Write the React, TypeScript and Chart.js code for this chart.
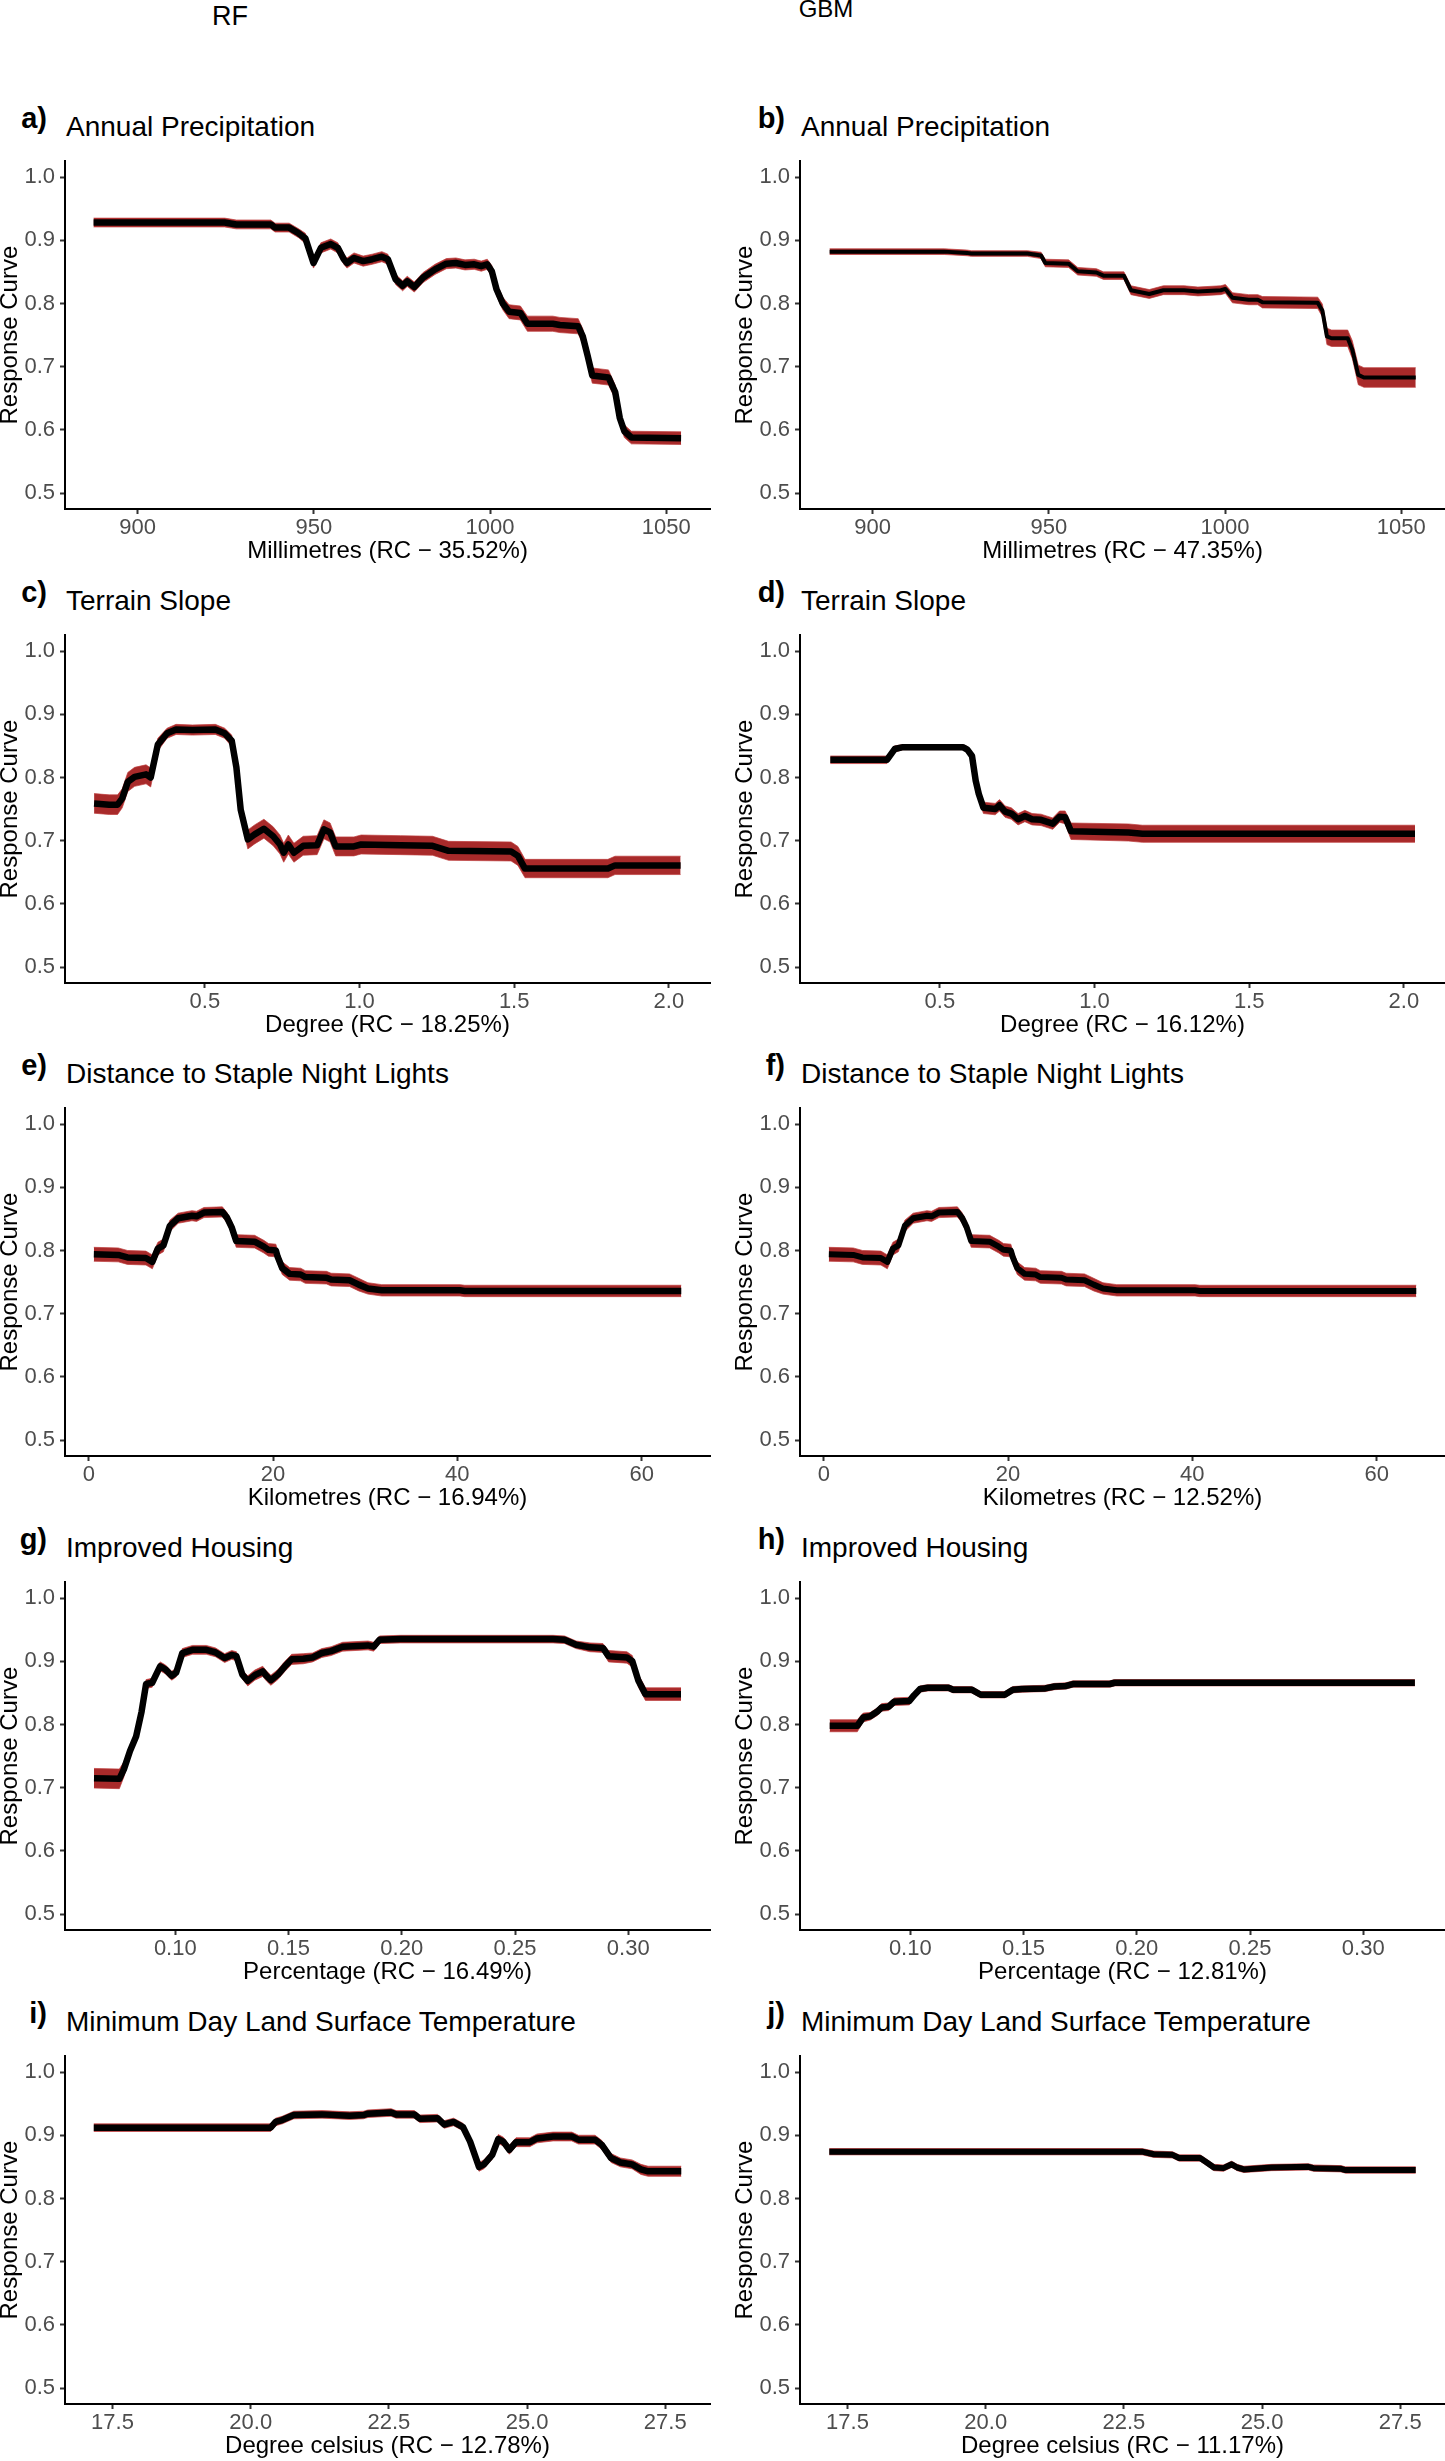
import React, { useEffect, useRef } from 'react';
import { Chart, registerables } from 'chart.js';

Chart.register(...registerables);

const FONT = '"Liberation Sans", Arial, Helvetica, sans-serif';
const TICK_FONT = '"Liberation Sans Narrow", "Arial Narrow", "Liberation Sans", Arial, sans-serif';
const RED = '#A82A2A';
const RED_EDGE = 'rgba(190,60,60,0.7)';
const TICK_GREY = '#4D4D4D';

// ---------- tick values / labels ----------
const yTickValues = [0.5, 0.6, 0.7, 0.8, 0.9, 1.0];
const yTickLabels = ['0.5', '0.6', '0.7', '0.8', '0.9', '1.0'];
const precipTickValues = [900, 950, 1000, 1050];
const precipTickLabels = ['900', '950', '1000', '1050'];
const slopeTickValues = [0.5, 1.0, 1.5, 2.0];
const slopeTickLabels = ['0.5', '1.0', '1.5', '2.0'];
const lightsTickValues = [0, 20, 40, 60];
const lightsTickLabels = ['0', '20', '40', '60'];
const housingTickValues = [0.1, 0.15, 0.2, 0.25, 0.3];
const housingTickLabels = ['0.10', '0.15', '0.20', '0.25', '0.30'];
const tempTickValues = [17.5, 20.0, 22.5, 25.0, 27.5];
const tempTickLabels = ['17.5', '20.0', '22.5', '25.0', '27.5'];

// ---------- a) RF Annual Precipitation ----------
const aX = [887.5, 924.7, 928.0, 937.8, 939.0, 943.0, 945.7, 947.6, 949.9, 952.0, 954.8, 956.8, 958.5, 959.4, 961.4, 964.0, 966.6, 969.3, 971.0, 973.2, 975.2, 976.5, 978.5, 981.0, 984.4, 987.6, 990.3, 992.9, 995.5, 997.5, 999.2, 1000.5, 1001.8, 1003.6, 1005.4, 1008.6, 1010.6, 1017.8, 1019.8, 1025.0, 1026.3, 1027.7, 1029.0, 1033.6, 1035.5, 1036.8, 1038.1, 1040.1, 1054.2];
const aY = [0.928, 0.928, 0.925, 0.925, 0.92, 0.92, 0.911, 0.903, 0.864, 0.888, 0.894, 0.888, 0.87, 0.864, 0.872, 0.867, 0.87, 0.874, 0.87, 0.838, 0.828, 0.835, 0.826, 0.841, 0.854, 0.863, 0.864, 0.861, 0.862, 0.859, 0.862, 0.851, 0.823, 0.8, 0.787, 0.785, 0.768, 0.768, 0.766, 0.764, 0.748, 0.717, 0.686, 0.683, 0.66, 0.619, 0.598, 0.588, 0.587];
const aW = [0.007, 0.007, 0.007, 0.007, 0.007, 0.007, 0.007, 0.008, 0.008, 0.008, 0.008, 0.008, 0.008, 0.008, 0.008, 0.008, 0.008, 0.008, 0.008, 0.008, 0.008, 0.008, 0.008, 0.008, 0.008, 0.008, 0.008, 0.008, 0.008, 0.008, 0.008, 0.009, 0.01, 0.01, 0.011, 0.011, 0.012, 0.012, 0.012, 0.012, 0.012, 0.012, 0.012, 0.012, 0.011, 0.01, 0.01, 0.01, 0.01];

// ---------- b) GBM Annual Precipitation ----------
const bX = [887.8, 920.3, 926.8, 928.0, 943.9, 947.8, 949.0, 955.6, 958.2, 963.5, 965.5, 971.3, 973.3, 978.5, 982.5, 988.4, 992.3, 998.8, 1000.1, 1002.1, 1006.7, 1009.3, 1010.6, 1026.3, 1027.6, 1028.9, 1030.2, 1034.8, 1036.1, 1037.8, 1039.4, 1054.1];
const bY = [0.882, 0.882, 0.88, 0.879, 0.879, 0.876, 0.864, 0.863, 0.851, 0.849, 0.844, 0.844, 0.821, 0.815, 0.821, 0.821, 0.819, 0.821, 0.823, 0.809, 0.806, 0.806, 0.802, 0.801, 0.789, 0.748, 0.745, 0.745, 0.727, 0.687, 0.683, 0.683];
const bW = [0.0045, 0.0045, 0.0045, 0.0045, 0.0045, 0.005, 0.006, 0.006, 0.006, 0.006, 0.006, 0.006, 0.007, 0.007, 0.007, 0.007, 0.007, 0.007, 0.007, 0.008, 0.008, 0.008, 0.009, 0.009, 0.01, 0.013, 0.013, 0.013, 0.014, 0.0155, 0.0155, 0.0155];

// ---------- c) RF Terrain Slope ----------
const cX = [0.142, 0.191, 0.218, 0.233, 0.251, 0.273, 0.31, 0.325, 0.348, 0.378, 0.407, 0.46, 0.534, 0.564, 0.587, 0.602, 0.616, 0.639, 0.661, 0.691, 0.721, 0.743, 0.755, 0.77, 0.788, 0.818, 0.863, 0.885, 0.905, 0.923, 0.982, 1.005, 1.132, 1.236, 1.288, 1.49, 1.512, 1.535, 1.803, 1.826, 2.038];
const cY = [0.759, 0.757, 0.757, 0.767, 0.793, 0.801, 0.805, 0.8, 0.852, 0.87, 0.876, 0.875, 0.876, 0.87, 0.858, 0.816, 0.749, 0.702, 0.71, 0.719, 0.707, 0.694, 0.681, 0.694, 0.681, 0.692, 0.693, 0.718, 0.713, 0.691, 0.691, 0.694, 0.693, 0.692, 0.684, 0.683, 0.676, 0.656, 0.656, 0.661, 0.661];
const cW = [0.0155, 0.0155, 0.0155, 0.015, 0.015, 0.015, 0.015, 0.015, 0.01, 0.008, 0.008, 0.008, 0.008, 0.008, 0.009, 0.011, 0.013, 0.015, 0.015, 0.015, 0.015, 0.015, 0.015, 0.015, 0.015, 0.015, 0.015, 0.015, 0.015, 0.015, 0.015, 0.015, 0.015, 0.015, 0.015, 0.015, 0.015, 0.0145, 0.0145, 0.0145, 0.0145];

// ---------- d) GBM Terrain Slope ----------
const dX = [0.146, 0.329, 0.354, 0.381, 0.574, 0.589, 0.604, 0.616, 0.626, 0.641, 0.679, 0.693, 0.711, 0.731, 0.753, 0.775, 0.798, 0.827, 0.865, 0.887, 0.905, 0.924, 1.11, 1.155, 2.036];
const dY = [0.828, 0.828, 0.845, 0.848, 0.848, 0.844, 0.834, 0.795, 0.774, 0.752, 0.75, 0.756, 0.746, 0.743, 0.734, 0.739, 0.734, 0.733, 0.727, 0.738, 0.737, 0.715, 0.713, 0.711, 0.711];
const dW = [0.006, 0.006, 0.005, 0.004, 0.004, 0.005, 0.006, 0.008, 0.009, 0.009, 0.009, 0.009, 0.009, 0.009, 0.009, 0.009, 0.009, 0.009, 0.009, 0.009, 0.01, 0.013, 0.0135, 0.0135, 0.0135];

// ---------- e) RF Distance to Staple Night Lights ----------
const eX = [0.55, 3.2, 4.2, 6.2, 6.9, 7.5, 8.1, 8.8, 9.7, 11.2, 11.7, 12.5, 14.5, 15.0, 15.5, 16.0, 18.0, 19.0, 19.5, 20.3, 20.5, 21.0, 21.8, 23.0, 23.5, 25.8, 26.3, 28.3, 29.3, 30.3, 31.8, 40.3, 40.8, 64.3];
const eY = [0.794, 0.793, 0.789, 0.788, 0.782, 0.803, 0.808, 0.839, 0.851, 0.855, 0.854, 0.86, 0.861, 0.852, 0.837, 0.815, 0.814, 0.806, 0.801, 0.8, 0.79, 0.772, 0.763, 0.762, 0.758, 0.757, 0.754, 0.753, 0.746, 0.74, 0.737, 0.737, 0.736, 0.736];
const eW = [0.011, 0.011, 0.011, 0.011, 0.011, 0.01, 0.01, 0.009, 0.008, 0.008, 0.008, 0.008, 0.008, 0.008, 0.009, 0.01, 0.01, 0.01, 0.01, 0.01, 0.01, 0.01, 0.01, 0.01, 0.01, 0.01, 0.01, 0.01, 0.01, 0.009, 0.009, 0.009, 0.009, 0.009];

// ---------- f) GBM Distance to Staple Night Lights ----------
const fX = [0.55, 3.2, 4.2, 6.2, 6.9, 7.5, 8.1, 8.8, 9.7, 11.2, 11.7, 12.5, 14.5, 15.0, 15.5, 16.0, 18.0, 19.0, 19.5, 20.3, 20.5, 21.0, 21.8, 23.0, 23.5, 25.8, 26.3, 28.3, 29.3, 30.3, 31.8, 40.3, 40.8, 64.3];
const fY = [0.794, 0.793, 0.789, 0.788, 0.782, 0.803, 0.808, 0.839, 0.851, 0.855, 0.854, 0.86, 0.861, 0.852, 0.837, 0.815, 0.814, 0.806, 0.801, 0.8, 0.79, 0.772, 0.763, 0.762, 0.758, 0.757, 0.754, 0.753, 0.746, 0.74, 0.737, 0.737, 0.736, 0.736];
const fW = [0.011, 0.011, 0.011, 0.011, 0.011, 0.01, 0.01, 0.009, 0.008, 0.008, 0.008, 0.008, 0.008, 0.008, 0.009, 0.01, 0.01, 0.01, 0.01, 0.01, 0.01, 0.01, 0.01, 0.01, 0.01, 0.01, 0.01, 0.01, 0.01, 0.009, 0.009, 0.009, 0.009, 0.009];

// ---------- g) RF Improved Housing ----------
const gX = [0.0641, 0.0753, 0.0773, 0.08, 0.0827, 0.0851, 0.0871, 0.0898, 0.0933, 0.0957, 0.0984, 0.1004, 0.1031, 0.1076, 0.1137, 0.1178, 0.1218, 0.1249, 0.127, 0.1296, 0.132, 0.1351, 0.1386, 0.1402, 0.1422, 0.1453, 0.1484, 0.1514, 0.1565, 0.1606, 0.1647, 0.1688, 0.1739, 0.1851, 0.1876, 0.1902, 0.1994, 0.2096, 0.2668, 0.2719, 0.277, 0.2831, 0.2888, 0.2913, 0.2994, 0.3018, 0.3045, 0.3076, 0.3233];
const gY = [0.715, 0.714, 0.729, 0.758, 0.781, 0.82, 0.864, 0.866, 0.892, 0.887, 0.877, 0.882, 0.913, 0.918, 0.918, 0.914, 0.905, 0.91, 0.908, 0.879, 0.869, 0.878, 0.884, 0.877, 0.87, 0.879, 0.892, 0.903, 0.904, 0.906, 0.913, 0.916, 0.923, 0.925, 0.923, 0.934, 0.935, 0.935, 0.935, 0.934, 0.926, 0.922, 0.921, 0.908, 0.906, 0.9, 0.869, 0.848, 0.848];
const gW = [0.0155, 0.0155, 0.012, 0.008, 0.007, 0.007, 0.007, 0.007, 0.007, 0.007, 0.007, 0.007, 0.007, 0.007, 0.007, 0.007, 0.007, 0.007, 0.007, 0.007, 0.008, 0.008, 0.008, 0.008, 0.008, 0.008, 0.008, 0.008, 0.008, 0.007, 0.007, 0.007, 0.007, 0.007, 0.007, 0.006, 0.006, 0.006, 0.006, 0.006, 0.006, 0.007, 0.007, 0.009, 0.009, 0.009, 0.01, 0.01, 0.01];

// ---------- h) GBM Improved Housing ----------
const hX = [0.0644, 0.0766, 0.0792, 0.0823, 0.0853, 0.0874, 0.0904, 0.0929, 0.0996, 0.1016, 0.1043, 0.1077, 0.1169, 0.1189, 0.1271, 0.1311, 0.1417, 0.1453, 0.1494, 0.1596, 0.1637, 0.1688, 0.1718, 0.1881, 0.1902, 0.3228];
const hY = [0.798, 0.798, 0.811, 0.813, 0.82, 0.827, 0.828, 0.836, 0.837, 0.846, 0.856, 0.858, 0.858, 0.855, 0.855, 0.847, 0.847, 0.855, 0.856, 0.857, 0.86, 0.861, 0.864, 0.864, 0.866, 0.866];
const hW = [0.0095, 0.0095, 0.007, 0.006, 0.006, 0.006, 0.006, 0.006, 0.006, 0.005, 0.005, 0.005, 0.005, 0.005, 0.005, 0.005, 0.005, 0.005, 0.005, 0.005, 0.005, 0.005, 0.005, 0.005, 0.005, 0.005];

// ---------- i) RF Minimum Day Land Surface Temperature ----------
const iX = [17.16, 20.36, 20.45, 20.57, 20.78, 21.29, 21.79, 22.04, 22.12, 22.54, 22.63, 22.96, 23.06, 23.38, 23.5, 23.67, 23.84, 23.97, 24.13, 24.22, 24.37, 24.48, 24.57, 24.68, 24.8, 25.05, 25.18, 25.47, 25.81, 25.93, 26.23, 26.35, 26.52, 26.69, 26.9, 27.06, 27.19, 27.79];
const iY = [0.912, 0.912, 0.921, 0.924, 0.932, 0.933, 0.931, 0.932, 0.934, 0.936, 0.933, 0.933, 0.926, 0.927, 0.917, 0.921, 0.913, 0.89, 0.85, 0.854, 0.869, 0.894, 0.89, 0.877, 0.889, 0.889, 0.895, 0.898, 0.898, 0.893, 0.893, 0.885, 0.864, 0.857, 0.854, 0.846, 0.843, 0.843];
const iW = [0.006, 0.006, 0.006, 0.006, 0.006, 0.006, 0.006, 0.006, 0.006, 0.006, 0.006, 0.006, 0.006, 0.006, 0.006, 0.006, 0.006, 0.007, 0.007, 0.007, 0.007, 0.007, 0.007, 0.007, 0.007, 0.007, 0.007, 0.007, 0.007, 0.007, 0.007, 0.007, 0.007, 0.007, 0.007, 0.008, 0.008, 0.008];

// ---------- j) GBM Minimum Day Land Surface Temperature ----------
const jX = [17.17, 22.83, 23.04, 23.38, 23.5, 23.88, 24.0, 24.13, 24.3, 24.45, 24.55, 24.67, 25.17, 25.84, 25.93, 26.43, 26.51, 27.78];
const jY = [0.874, 0.874, 0.87, 0.869, 0.864, 0.864, 0.857, 0.849, 0.848, 0.854, 0.849, 0.846, 0.849, 0.85, 0.848, 0.847, 0.845, 0.845];
const jW = [0.005, 0.005, 0.005, 0.005, 0.005, 0.005, 0.005, 0.005, 0.005, 0.005, 0.005, 0.005, 0.005, 0.005, 0.005, 0.005, 0.005, 0.005];

// ---------- panel descriptors ----------
const panelLetters = ['a)', 'b)', 'c)', 'd)', 'e)', 'f)', 'g)', 'h)', 'i)', 'j)'];
const panelTitles = [
  'Annual Precipitation', 'Annual Precipitation',
  'Terrain Slope', 'Terrain Slope',
  'Distance to Staple Night Lights', 'Distance to Staple Night Lights',
  'Improved Housing', 'Improved Housing',
  'Minimum Day Land Surface Temperature', 'Minimum Day Land Surface Temperature',
];
const xTitles = [
  'Millimetres (RC \u2212 35.52%)', 'Millimetres (RC \u2212 47.35%)',
  'Degree (RC \u2212 18.25%)', 'Degree (RC \u2212 16.12%)',
  'Kilometres (RC \u2212 16.94%)', 'Kilometres (RC \u2212 12.52%)',
  'Percentage (RC \u2212 16.49%)', 'Percentage (RC \u2212 12.81%)',
  'Degree celsius (RC \u2212 12.78%)', 'Degree celsius (RC \u2212 11.17%)',
];
const xRanges = [
  [879.4, 1062.4], [879.4, 1062.4],
  [0.048, 2.133], [0.048, 2.133],
  [-2.58, 67.42], [-2.58, 67.42],
  [0.0513, 0.3361], [0.0513, 0.3361],
  [16.64, 28.31], [16.64, 28.31],
];
const xTickSets = [
  [precipTickValues, precipTickLabels], [precipTickValues, precipTickLabels],
  [slopeTickValues, slopeTickLabels], [slopeTickValues, slopeTickLabels],
  [lightsTickValues, lightsTickLabels], [lightsTickValues, lightsTickLabels],
  [housingTickValues, housingTickLabels], [housingTickValues, housingTickLabels],
  [tempTickValues, tempTickLabels], [tempTickValues, tempTickLabels],
];
const series = [
  [aX, aY, aW], [bX, bY, bW], [cX, cY, cW], [dX, dY, dW], [eX, eY, eW],
  [fX, fY, fW], [gX, gY, gW], [hX, hY, hW], [iX, iY, iW], [jX, jY, jW],
];
const lineWidths = [6.5, 4, 6.5, 6.5, 6.5, 6, 6.5, 6.5, 6.5, 6];

// ---------- layout ----------
const ROW_TOP = [155, 629, 1102, 1576, 2050];
const COL_X = [0, 735];
const PLOT_H = 354;
const AXIS_W = 65;
const PLOT_W = 645;
const PAD_TOP = 12;
const XAXIS_H = 60;
const CANVAS_W = AXIS_W + PLOT_W + 2;
const CANVAS_H = PAD_TOP + PLOT_H + XAXIS_H;

function Panel({ idx }: { idx: number }) {
  const ref = useRef<HTMLCanvasElement | null>(null);
  const row = Math.floor(idx / 2);
  const col = idx % 2;

  useEffect(() => {
    const [xs, ys, ws] = series[idx];
    const [tv, tl] = xTickSets[idx] as [number[], string[]];
    const mean = xs.map((x, i) => ({ x, y: ys[i] }));
    const upper = xs.map((x, i) => ({ x, y: ys[i] + ws[i] }));
    const lower = xs.map((x, i) => ({ x, y: ys[i] - ws[i] }));
    const grid = {
      display: true,
      drawOnChartArea: false,
      drawTicks: true,
      tickLength: 5,
      tickWidth: 2,
      tickColor: '#333333',
    };
    const border = { display: true, color: '#000000', width: 2 };
    const chart = new Chart(ref.current as HTMLCanvasElement, {
      type: 'line',
      data: {
        datasets: [
          {
            label: 'mean',
            data: mean,
            borderColor: '#000000',
            borderWidth: lineWidths[idx],
            borderJoinStyle: 'round',
            pointRadius: 0,
            fill: false,
            tension: 0,
          },
          {
            label: 'upper',
            data: upper,
            borderColor: RED_EDGE,
            borderWidth: 1,
            pointRadius: 0,
            fill: false,
            tension: 0,
          },
          {
            label: 'lower',
            data: lower,
            borderColor: RED_EDGE,
            borderWidth: 1,
            pointRadius: 0,
            fill: '-1',
            backgroundColor: RED,
            tension: 0,
          },
        ],
      },
      options: {
        animation: false,
        responsive: false,
        events: [],
        layout: { padding: { top: PAD_TOP, right: 2, left: 0, bottom: 0 } },
        plugins: {
          legend: { display: false },
          tooltip: { enabled: false },
          title: { display: false },
        },
        scales: {
          x: {
            type: 'linear',
            min: xRanges[idx][0],
            max: xRanges[idx][1],
            afterBuildTicks: (s: any) => {
              s.ticks = tv.map((v) => ({ value: v }));
            },
            afterFit: (s: any) => {
              s.height = XAXIS_H;
            },
            ticks: {
              autoSkip: false,
              maxRotation: 0,
              padding: 0.5,
              color: TICK_GREY,
              font: { family: TICK_FONT, size: 22 },
              callback: (_v: any, i: number) => tl[i],
            },
            grid,
            border,
            title: {
              display: true,
              text: xTitles[idx],
              color: '#000000',
              font: { family: FONT, size: 24 },
              padding: { top: 0, bottom: 2.8 },
            },
          },
          y: {
            type: 'linear',
            min: 0.475,
            max: 1.025,
            afterBuildTicks: (s: any) => {
              s.ticks = yTickValues.map((v) => ({ value: v }));
            },
            afterFit: (s: any) => {
              s.width = AXIS_W;
            },
            ticks: {
              padding: 5,
              color: TICK_GREY,
              font: { family: TICK_FONT, size: 22 },
              callback: (_v: any, i: number) => yTickLabels[i],
            },
            grid,
            border,
            title: {
              display: true,
              text: 'Response Curve',
              color: '#000000',
              font: { family: FONT, size: 24, lineHeight: '20px' },
              padding: 0,
            },
          },
        },
      } as any,
    });
    return () => chart.destroy();
  }, [idx]);

  const top = ROW_TOP[row];
  const left = COL_X[col];
  const letterRight = col === 0 ? 47 : 785;
  const titleLeft = left + AXIS_W + 1;
  const letterSize = 29;
  const titleSize = 28;
  const letterBase = top - 26;
  const titleBase = top - 18.5;

  return (
    <>
      <div
        style={{
          position: 'absolute',
          left: letterRight - 100,
          width: 100,
          textAlign: 'right',
          top: letterBase - 0.8465 * letterSize,
          fontSize: letterSize,
          lineHeight: `${letterSize}px`,
          fontWeight: 'bold',
          fontFamily: FONT,
          color: '#000',
          whiteSpace: 'nowrap',
        }}
      >
        {panelLetters[idx]}
      </div>
      <div
        style={{
          position: 'absolute',
          left: titleLeft,
          top: titleBase - 0.8465 * titleSize,
          fontSize: titleSize,
          lineHeight: `${titleSize}px`,
          fontFamily: FONT,
          color: '#000',
          whiteSpace: 'nowrap',
        }}
      >
        {panelTitles[idx]}
      </div>
      <canvas
        ref={ref}
        width={CANVAS_W}
        height={CANVAS_H}
        style={{
          position: 'absolute',
          left,
          top: top - PAD_TOP,
          width: CANVAS_W,
          height: CANVAS_H,
        }}
      />
    </>
  );
}

export default function App() {
  const headSize = 27;
  const gbmSize = 24;
  return (
    <div
      style={{
        position: 'absolute',
        left: 0,
        top: 0,
        width: 1445,
        height: 2461,
        overflow: 'hidden',
        background: '#ffffff',
        fontFamily: FONT,
      }}
    >
      <div
        style={{
          position: 'absolute',
          left: 230 - 100,
          width: 200,
          textAlign: 'center',
          top: 26 - 0.8465 * headSize,
          fontSize: headSize,
          lineHeight: `${headSize}px`,
          color: '#000',
        }}
      >
        RF
      </div>
      <div
        style={{
          position: 'absolute',
          left: 826 - 100,
          width: 200,
          textAlign: 'center',
          top: 17 - 0.8465 * gbmSize,
          fontSize: gbmSize,
          lineHeight: `${gbmSize}px`,
          color: '#000',
        }}
      >
        GBM
      </div>
      {panelLetters.map((_, i) => (
        <Panel key={i} idx={i} />
      ))}
    </div>
  );
}
